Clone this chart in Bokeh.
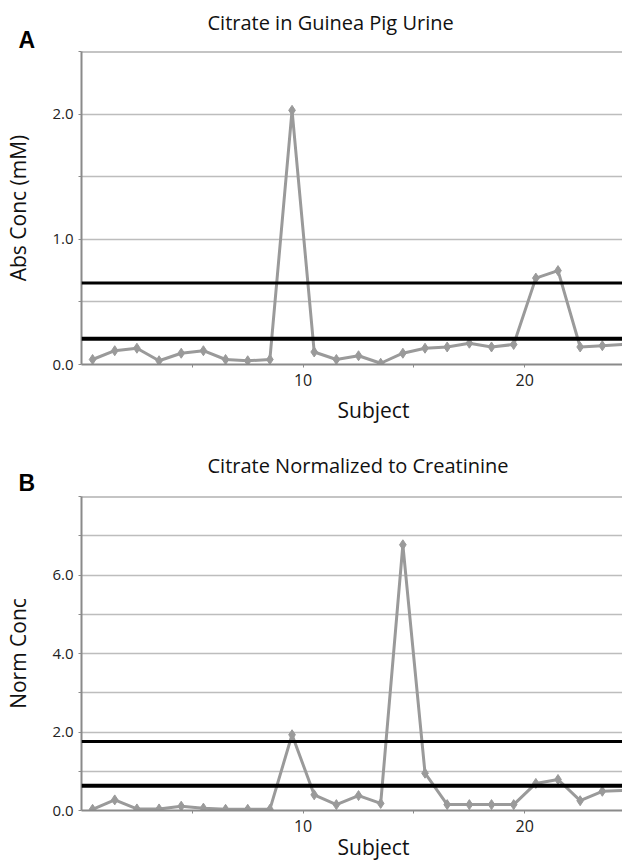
from bokeh.plotting import figure
from bokeh.models import Range1d, FixedTicker, Span, Title, ColumnDataSource
from bokeh.layouts import column
from bokeh.embed import file_html
from bokeh.resources import INLINE

# ---- data ----
subjects = list(range(1, 26))
abs_conc = [0.04, 0.11, 0.13, 0.03, 0.09, 0.11, 0.04, 0.03, 0.04, 2.03,
            0.10, 0.04, 0.07, 0.01, 0.09, 0.13, 0.14, 0.17, 0.14, 0.16,
            0.69, 0.75, 0.14, 0.15, 0.16]
norm_conc = [0.03, 0.27, 0.04, 0.04, 0.11, 0.06, 0.03, 0.03, 0.03, 1.93,
             0.40, 0.15, 0.38, 0.18, 6.77, 0.95, 0.15, 0.15, 0.15, 0.15,
             0.69, 0.79, 0.25, 0.49, 0.51]
abs_limits = [0.65, 0.205]
norm_limits = [1.76, 0.63]

title_a = "Citrate in Guinea Pig Urine"
title_b = "Citrate Normalized to Creatinine"
ylabel_a = "Abs Conc (mM)"
ylabel_b = "Norm Conc"
xlabel = "Subject"

FONT = "Open Sans"
GREY = "#9a9a9a"
AXIS = "#8a8a8a"
W = 622


def panel(values, limits, ymax, grid_step, label_ticks, fmt_ticks, letter, title,
          ylabel, h, top, bottom, letter_so, title_so, xlabel_so):
    p = figure(width=W, height=h, output_backend="svg", toolbar_location=None,
               x_range=Range1d(0, 24.41), y_range=Range1d(0, ymax),
               min_border_left=81, min_border_right=0,
               min_border_top=top, min_border_bottom=bottom)
    p.outline_line_color = None
    p.background_fill_color = "white"
    p.border_fill_color = "white"

    # grid
    p.xgrid.visible = False
    gticks = []
    v = grid_step
    while v <= ymax + 1e-9:
        gticks.append(round(v, 4))
        v += grid_step
    p.ygrid.ticker = FixedTicker(ticks=gticks[:-1])
    p.ygrid.grid_line_color = "#bdbdbd"
    p.ygrid.grid_line_width = 1.5
    p.add_layout(Span(location=ymax, dimension="width", line_color=AXIS, line_width=2))

    # y axis
    yax = p.yaxis[0]
    minor = [t for t in gticks if t not in label_ticks]
    yax.ticker = FixedTicker(ticks=label_ticks, minor_ticks=minor)
    yax.major_label_overrides = {t: s for t, s in zip(label_ticks, fmt_ticks)}
    yax.axis_line_color = AXIS
    yax.axis_line_width = 2
    yax.major_tick_line_color = AXIS
    yax.minor_tick_line_color = AXIS
    yax.major_tick_out = 3
    yax.major_tick_in = 0
    yax.minor_tick_out = 3
    yax.minor_tick_in = 0
    yax.major_label_standoff = 5
    yax.major_label_text_font = FONT
    yax.major_label_text_font_size = "15px"
    yax.major_label_text_color = "#222222"
    yax.axis_label = ylabel
    yax.axis_label_text_font = FONT
    yax.axis_label_text_font_size = "21px"
    yax.axis_label_text_font_style = "normal"
    yax.axis_label_text_color = "#111111"
    yax.axis_label_standoff = 17

    # x axis
    xax = p.xaxis[0]
    xax.ticker = FixedTicker(ticks=[10, 20], minor_ticks=[5, 15])
    xax.axis_line_color = AXIS
    xax.axis_line_width = 2
    xax.major_tick_line_color = AXIS
    xax.minor_tick_line_color = AXIS
    xax.major_tick_out = 3
    xax.major_tick_in = 0
    xax.minor_tick_out = 3
    xax.minor_tick_in = 0
    xax.major_label_standoff = 6
    xax.major_label_text_font = FONT
    xax.major_label_text_font_size = "16px"
    xax.major_label_text_color = "#222222"

    # threshold lines
    for lim, lw in zip(limits, [3, 4]):
        p.add_layout(Span(location=lim, dimension="width", line_color="black", line_width=lw))

    src = ColumnDataSource(dict(x=[s - 0.5 for s in subjects], y=values))
    p.line("x", "y", source=src, line_color=GREY, line_width=3)
    p.scatter("x", "y", source=src, marker="diamond", size=10,
              fill_color=GREY, line_color=GREY)

    # texts
    p.add_layout(Title(text=letter, align="left", offset=-63, standoff=letter_so,
                       text_font="Liberation Sans", text_font_style="bold",
                       text_font_size="23px", text_color="black"), "above")
    p.add_layout(Title(text=title, align="left", offset=126, standoff=title_so,
                       text_font=FONT, text_font_style="normal",
                       text_font_size="20px", text_color="#111111"), "above")
    p.add_layout(Title(text=xlabel, align="left", offset=256, standoff=xlabel_so,
                       vertical_align="top",
                       text_font=FONT, text_font_style="normal",
                       text_font_size="21px", text_color="#111111"), "below")
    return p


pa = panel(abs_conc, abs_limits, 2.5, 0.5, [0, 1, 2], ["0.0", "1.0", "2.0"], "A",
           title_a, ylabel_a, 440, 51, 76, -2, -21, 14)
pb = panel(norm_conc, norm_limits, 8, 1, [0, 2, 4, 6], ["0.0", "2.0", "4.0", "6.0"], "B",
           title_b, ylabel_b, 422, 56, 52, 2, -25, -4)

layout = column(pa, pb, spacing=0)
open("out.html", "w").write(file_html(layout, INLINE))
